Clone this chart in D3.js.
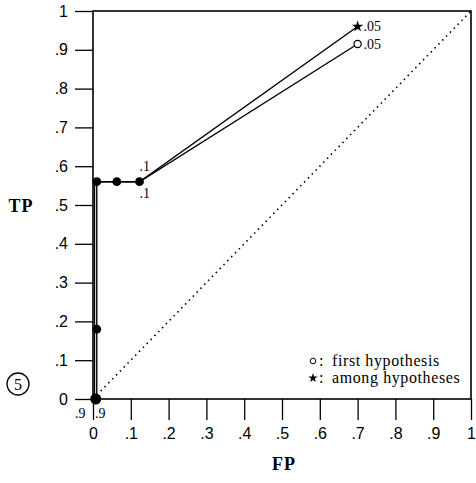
<!DOCTYPE html>
<html>
<head>
<meta charset="utf-8">
<script src="https://cdn.jsdelivr.net/npm/d3@7"></script>
<style>
  body { margin: 0; background: #fff; }
  svg { font-family: "Liberation Serif", "DejaVu Serif", serif; }
</style>
</head>
<body>
<script>
// data
var ticks = [0, .1, .2, .3, .4, .5, .6, .7, .8, .9, 1];
var firstHyp = [[0.01, 0], [0.01, 0.18], [0.01, 0.56], [0.063, 0.56], [0.123, 0.56], [0.70, 0.915]];
var amongHyp = [[0.004, 0], [0.004, 0.56], [0.063, 0.56], [0.123, 0.56], [0.70, 0.96]];
var pointLabels = [
    {x: 0.123, y: 0.56, text: ".1", dx: 0, dy: -11},
    {x: 0.123, y: 0.56, text: ".1", dx: 0, dy: 16},
    {x: 0.70, y: 0.96, text: ".05", dx: 6, dy: 4},
    {x: 0.70, y: 0.915, text: ".05", dx: 6, dy: 5},
    {x: 0, y: 0, text: ".9", dx: -18, dy: 19},
    {x: 0, y: 0, text: ".9", dx: 2, dy: 19}
];

var svgWidth = 476, svgHeight = 483;

var svg = d3.select("body").append("svg")
    .attr("width", svgWidth)
    .attr("height", svgHeight);

var x = d3.scaleLinear().domain([0, 1]).range([93, 471]);
var y = d3.scaleLinear().domain([0, 1]).range([399, 11]);

function fmt(d) {
    if (d === 0) return "0";
    if (d === 1) return "1";
    return "." + Math.round(d * 10);
}

// axes
var bottomAxis = d3.axisBottom(x).tickValues(ticks).tickSize(21).tickPadding(5).tickFormat(fmt);
var leftAxis = d3.axisLeft(y).tickValues(ticks).tickSize(18).tickPadding(7).tickFormat(fmt);

var gx = svg.append("g").attr("transform", `translate(0, ${y(0)})`).call(bottomAxis);
var gy = svg.append("g").attr("transform", `translate(${x(0)}, 0)`).call(leftAxis);

[gx, gy].forEach(function(g) {
    g.select(".domain").remove();
    g.selectAll("line").attr("stroke", "#000").attr("stroke-width", 1.3);
    g.selectAll("text").attr("fill", "#000").attr("font-size", "16px");
});
gx.selectAll("text").attr("dy", "0.9em");

// frame
svg.append("rect")
    .attr("x", x(0)).attr("y", y(1))
    .attr("width", x(1) - x(0)).attr("height", y(0) - y(1))
    .attr("fill", "none").attr("stroke", "#000").attr("stroke-width", 1.6);

// chance diagonal
svg.append("line")
    .attr("x1", x(0)).attr("y1", y(0))
    .attr("x2", x(1)).attr("y2", y(1))
    .attr("stroke", "#000")
    .attr("stroke-width", 1.6)
    .attr("stroke-dasharray", "1.5,4");

var line = d3.line().x(d => x(d[0])).y(d => y(d[1]));

[firstHyp, amongHyp].forEach(function(s) {
    svg.append("path")
        .datum(s)
        .attr("d", line)
        .attr("fill", "none")
        .attr("stroke", "#000")
        .attr("stroke-width", 1.4);
});

// filled intermediate points
var inner = firstHyp.slice(1, firstHyp.length - 1);
svg.selectAll("circle.pt")
    .data(inner)
    .enter()
    .append("circle")
    .attr("class", "pt")
    .attr("cx", d => x(d[0]))
    .attr("cy", d => y(d[1]))
    .attr("r", 4.4)
    .attr("fill", "#000");

// origin blob
svg.append("circle")
    .attr("cx", x(firstHyp[0][0]) - 1).attr("cy", y(0))
    .attr("r", 5.5).attr("fill", "#000");

// end markers
var lastFirst = firstHyp[firstHyp.length - 1];
svg.append("circle")
    .attr("cx", x(lastFirst[0])).attr("cy", y(lastFirst[1]))
    .attr("r", 3.6)
    .attr("fill", "#fff").attr("stroke", "#000").attr("stroke-width", 1.2);

var lastAmong = amongHyp[amongHyp.length - 1];
svg.append("path")
    .attr("d", d3.symbol().type(d3.symbolStar).size(40))
    .attr("transform", `translate(${x(lastAmong[0])}, ${y(lastAmong[1])})`)
    .attr("fill", "#000");

// point labels
svg.selectAll("text.plab")
    .data(pointLabels)
    .enter()
    .append("text")
    .attr("class", "plab")
    .attr("x", d => x(d.x) + d.dx)
    .attr("y", d => y(d.y) + d.dy)
    .attr("font-size", "14px")
    .text(d => d.text);

// legend
var legend = svg.append("g").attr("font-size", "16px").attr("letter-spacing", "0.6px");
legend.append("circle")
    .attr("cx", 313).attr("cy", 361).attr("r", 2.8)
    .attr("fill", "none").attr("stroke", "#000").attr("stroke-width", 1);
legend.append("text").attr("x", 319).attr("y", 366).text(":");
legend.append("text").attr("x", 332).attr("y", 366).text("first hypothesis");
legend.append("path")
    .attr("d", d3.symbol().type(d3.symbolStar).size(28))
    .attr("transform", "translate(313, 378)")
    .attr("fill", "#000");
legend.append("text").attr("x", 319).attr("y", 383).text(":");
legend.append("text").attr("x", 332).attr("y", 383).text("among hypotheses");

// axis titles
svg.append("text")
    .attr("x", 284).attr("y", 470)
    .attr("text-anchor", "middle")
    .attr("font-size", "18px")
    .attr("font-weight", "bold")
    .attr("letter-spacing", "1px")
    .text("FP");

svg.append("text")
    .attr("x", 21).attr("y", 212)
    .attr("text-anchor", "middle")
    .attr("font-size", "18px")
    .attr("font-weight", "bold")
    .attr("letter-spacing", "1px")
    .text("TP");

// circled figure number
svg.append("circle")
    .attr("cx", 18).attr("cy", 384).attr("r", 11)
    .attr("fill", "none").attr("stroke", "#000").attr("stroke-width", 1.3);
svg.append("text")
    .attr("x", 18).attr("y", 390)
    .attr("text-anchor", "middle")
    .attr("font-size", "16px")
    .text("5");
</script>
</body>
</html>
